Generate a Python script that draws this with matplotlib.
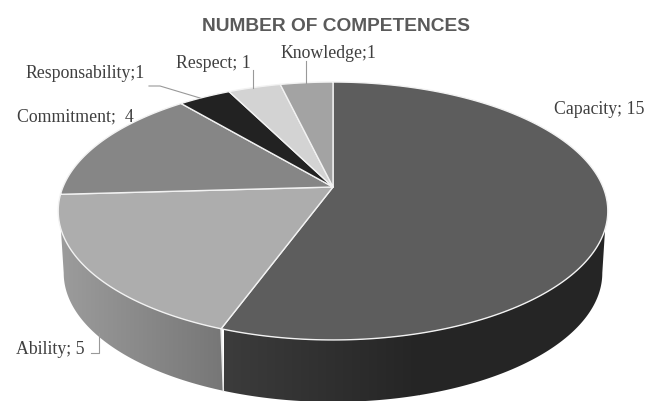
import numpy as np
import matplotlib
matplotlib.use("Agg")
import matplotlib.pyplot as plt
from matplotlib.colors import LinearSegmentedColormap

categories = ["Capacity", "Ability", "Commitment", "Responsability", "Respect", "Knowledge"]
values = [15, 5, 4, 1, 1, 1]
labels = ["Capacity; 15", "Ability; 5", "Commitment;  4", "Responsability;1", "Respect; 1", "Knowledge;1"]
top_colors = ["#5d5d5d", "#adadad", "#868686", "#222222", "#d3d3d3", "#a3a3a3"]
title = "NUMBER OF COMPETENCES"

# label anchor (left x, centre y) in pixels
label_xy = [(554, 109), (16, 350), (17, 117), (25, 73), (176, 64), (280, 54)]
leaders = [None, [(91, 353), (99, 353), (99, 333)], None,
           [(149, 86), (160, 86), (200, 98)], [(253, 70), (253, 88)], [(306, 61), (306, 83)]]

CX, CY, RX, RY, K = 333.0, 187.0, 270.0, 124.5, 0.186
DEPTH, SHRINK = 62.0, 0.98


def rim(theta_deg):
    t = np.radians(theta_deg)
    u, v = np.sin(t), np.cos(t)
    w = 1 + K * v
    return CX + RX * u / w, CY - RY * v / w


def lower(theta_deg):
    x, y = rim(theta_deg)
    return CX + SHRINK * (x - CX), y + DEPTH


fig = plt.figure(figsize=(6.58, 4.01), dpi=100)
ax = fig.add_axes([0, 0, 1, 1])
ax.axis("off")

edges = np.concatenate([[0], np.cumsum(values) / sum(values) * 360.0])
V_START, V_END = 108.5, 251.5   # visible part of the upper rim
L_START, L_END = 100.7, 259.3   # visible part of the lower rim

# side walls: a horizontal gradient image clipped to each wall outline
walls = [
    (V_START, edges[1], L_START, edges[1], (224, 420), ["#3c3c3c", "#252525"]),
    (edges[1], V_END, edges[1], L_END, (60, 226), ["#9c9c9c", "#767676"]),
]
for a0, a1, b0, b1, (x0, x1), shades in walls:
    ux, uy = rim(np.linspace(a0, a1, 200))
    lx, ly = lower(np.linspace(b0, b1, 200))
    poly = ax.fill(np.r_[ux, lx[::-1]], np.r_[uy, ly[::-1]], facecolor="none", edgecolor="none")[0]
    cmap = LinearSegmentedColormap.from_list("w", shades)
    grad = np.linspace(0, 1, 256).reshape(1, -1)
    im = ax.imshow(grad, cmap=cmap, extent=(x0, x1, 410, 200), aspect="auto", zorder=1)
    if x1 == 420:
        ax.fill_between([419, 620], 200, 410, color=shades[1], zorder=1, lw=0).set_clip_path(poly)
    im.set_clip_path(poly)

# divider between the two visible wall segments
bx, by = rim(edges[1])
lx, ly = lower(edges[1])
ax.plot([bx, lx], [by, ly], color="#e8e8e8", lw=1.1, zorder=2)

# top face
for i, col in enumerate(top_colors):
    th = np.linspace(edges[i], edges[i + 1], 200)
    x, y = rim(th)
    ax.fill(np.r_[CX, x], np.r_[CY, y], facecolor=col, edgecolor="#f2f2f2", lw=1.0,
            joinstyle="round", zorder=3)

# leaders and labels
for text, xy, lead in zip(labels, label_xy, leaders):
    ax.text(xy[0], xy[1], text, family="Liberation Serif", fontsize=12.8, color="#3f3f3f",
            ha="left", va="center", zorder=5)
    if lead:
        ax.plot(*zip(*lead), color="#999999", lw=0.8, zorder=4)

ax.text(335.5, 26.5, title, family="Liberation Sans", fontsize=13.8,
        fontweight="bold", color="#5a5a5a", ha="center", va="center", zorder=5)

ax.set_xlim(0, 658)
ax.set_ylim(401, 0)
fig.savefig("out.png", dpi=100)
